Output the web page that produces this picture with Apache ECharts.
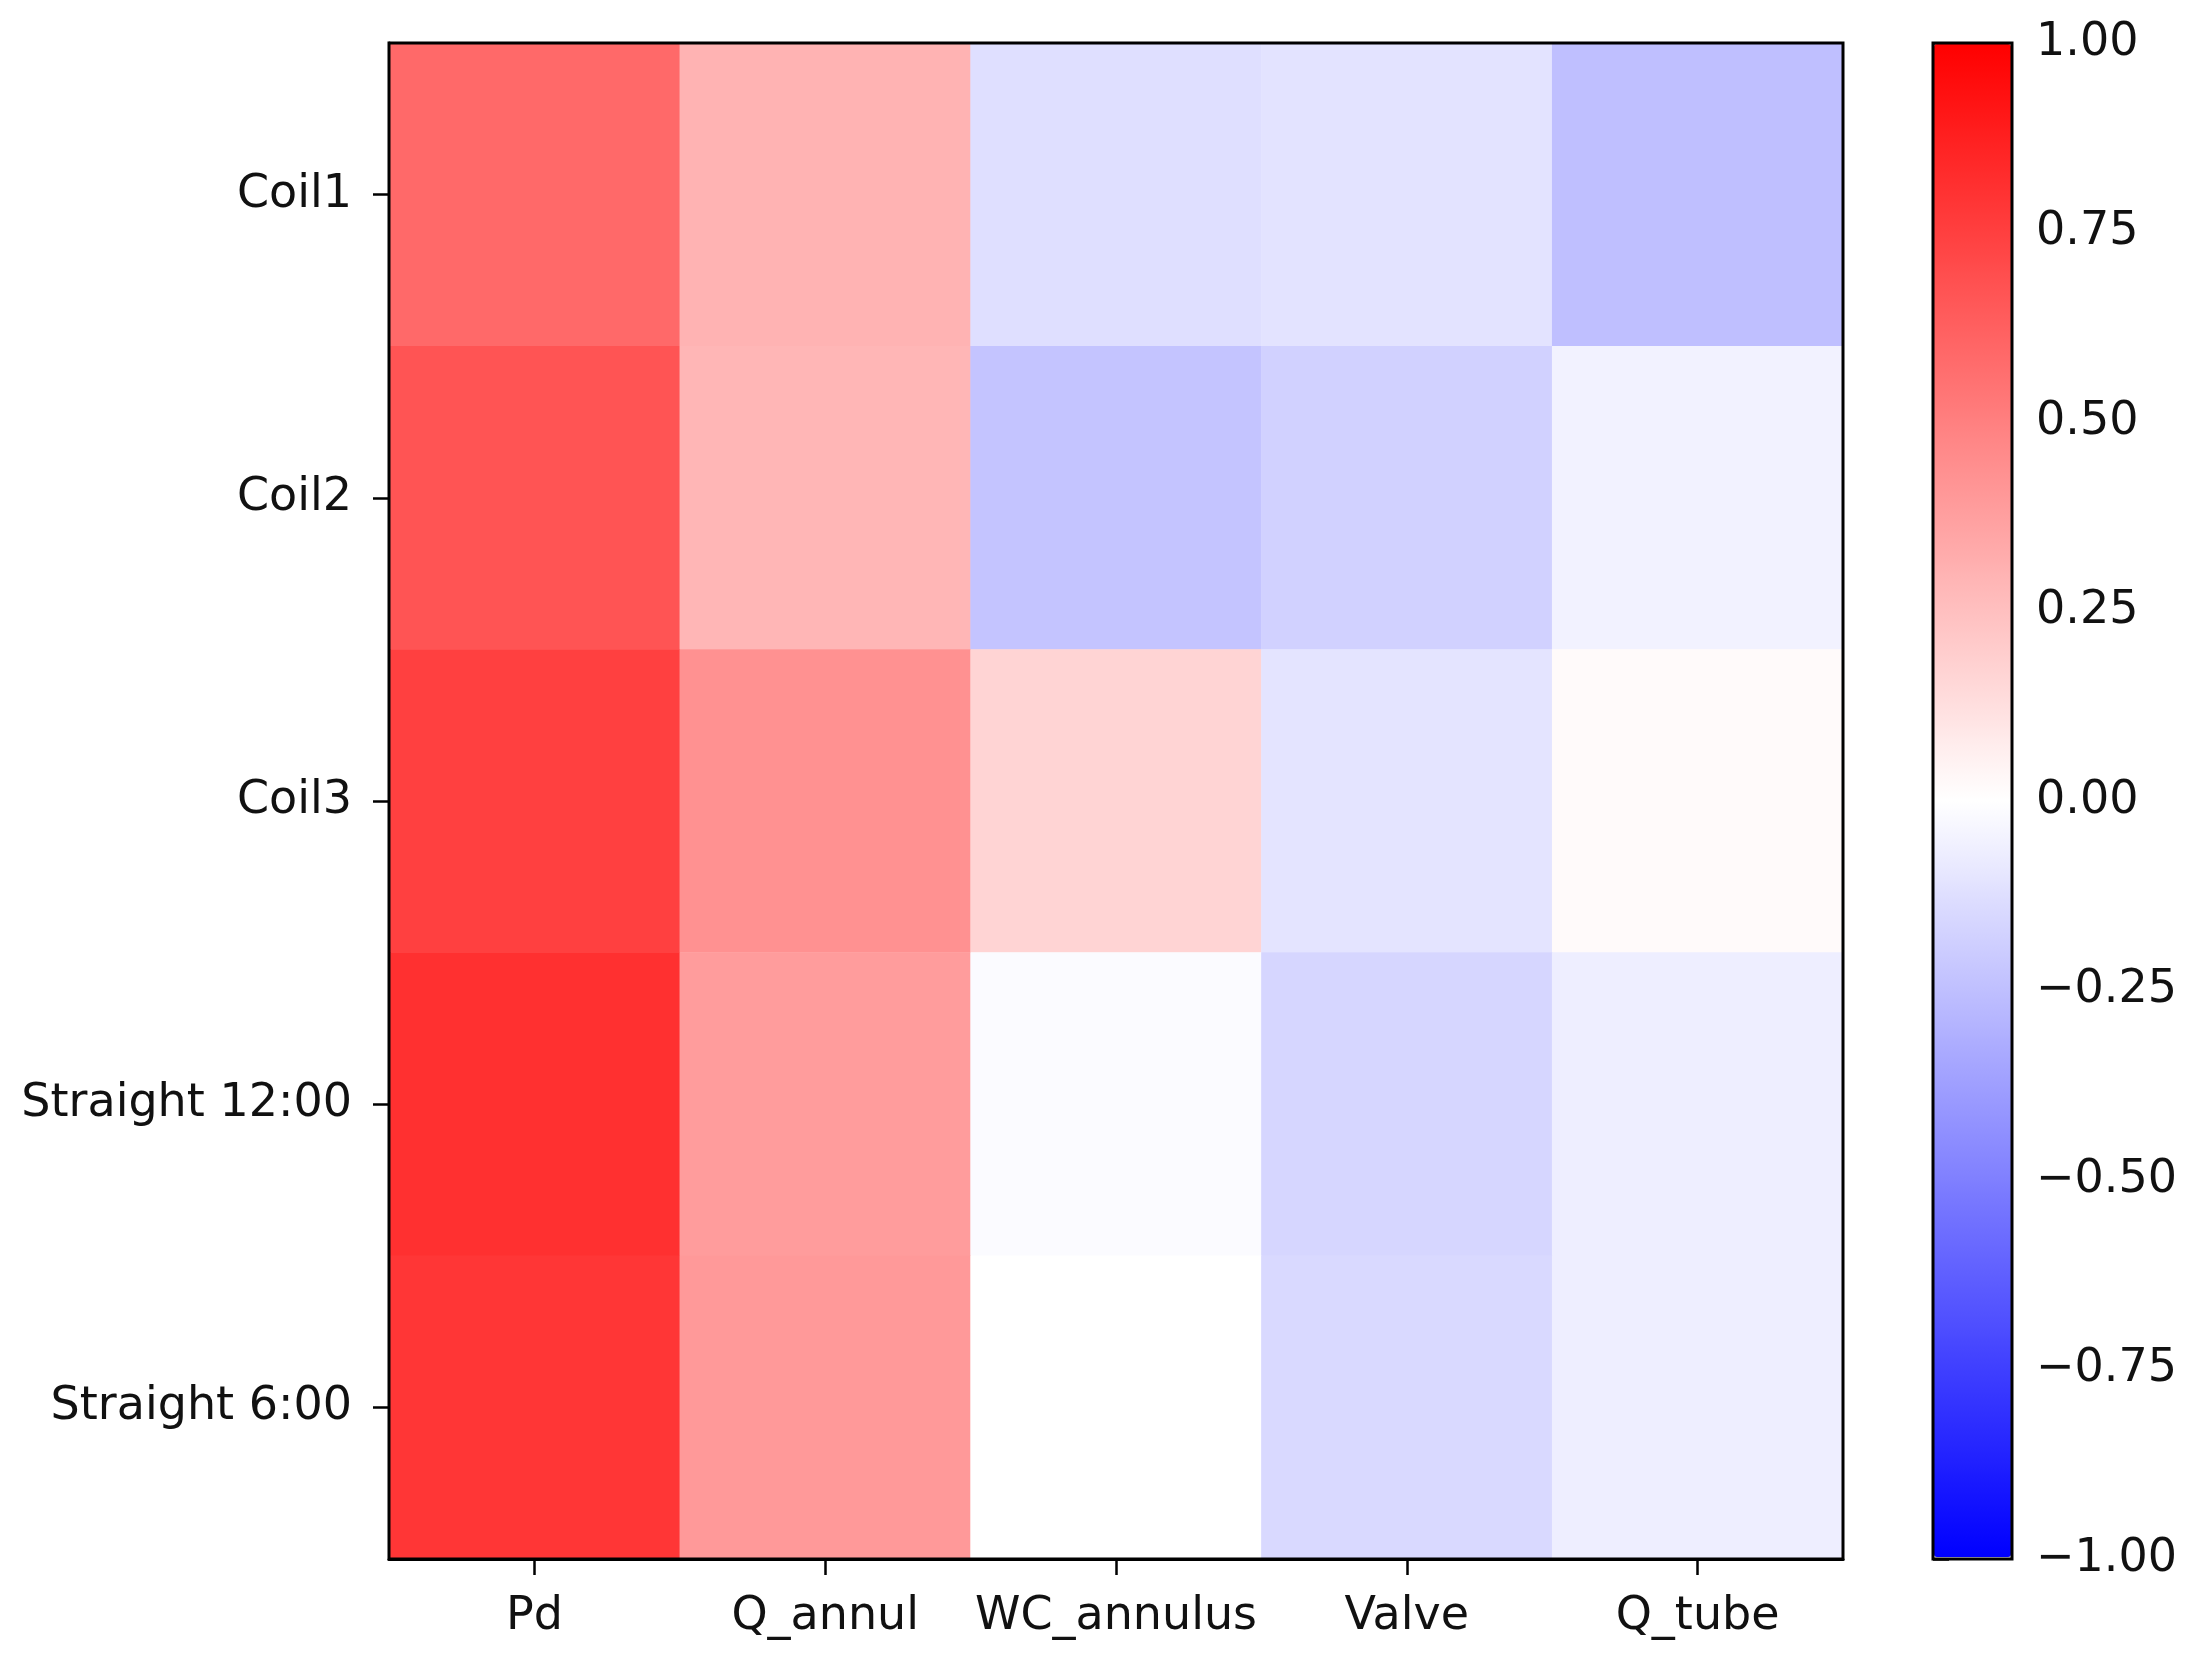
<!DOCTYPE html>
<html>
<head>
<meta charset="UTF-8">
<title>Correlation heatmap</title>
<script src="https://cdn.jsdelivr.net/npm/echarts@6/dist/echarts.min.js"></script>
<style>
  html, body { margin: 0; padding: 0; background: #fff; }
  #chart { width: 2200px; height: 1666px; }
</style>
</head>
<body>
<div id="chart"></div>
<script type="text/javascript">
    // columns and rows of the matrix
    var variables = ['Pd', 'Q_annul', 'WC_annulus', 'Valve', 'Q_tube'];
    var cases = ['Coil1', 'Coil2', 'Coil3', 'Straight 12:00', 'Straight 6:00'];

    // correlation values, one array per row
    var coil1 = [0.59, 0.30, -0.125, -0.11, -0.25];
    var coil2 = [0.67, 0.285, -0.23, -0.18, -0.05];
    var coil3 = [0.75, 0.43, 0.17, -0.105, 0.02];
    var straight12 = [0.81, 0.39, -0.015, -0.16, -0.065];
    var straight6 = [0.79, 0.40, 0.0, -0.15, -0.065];
    var rows = [coil1, coil2, coil3, straight12, straight6];

    // colorbar ticks
    var barTicks = [-1, -0.75, -0.5, -0.25, 0, 0.25, 0.5, 0.75, 1];

    var cells = [];
    for (let r = 0; r < rows.length; r++) {
        for (let c = 0; c < rows[r].length; c++) {
            cells.push([c, r, rows[r][c]]);
        }
    }

    var font = 'DejaVu Sans';
    var ink = '#111111';

    var option = {
        backgroundColor: '#ffffff',
        animation: false,
        grid: [
            {
                left: 389, top: 43, width: 1454, height: 1516,
                show: true, borderColor: '#000', borderWidth: 3,
                backgroundColor: 'transparent', z: 5
            },
            {
                left: 1933, top: 43, width: 79, height: 1516,
                show: true, borderColor: '#000', borderWidth: 3,
                backgroundColor: 'transparent', z: 10
            }
        ],
        xAxis: [
            {
                type: 'category',
                gridIndex: 0,
                data: variables,
                position: 'bottom',
                axisLine: {show: true, lineStyle: {color: '#000', width: 3}},
                axisTick: {show: true, alignWithLabel: true, length: 16, lineStyle: {color: '#000', width: 2.5}},
                axisLabel: {interval: 0, margin: 35, fontSize: 46, fontFamily: font, color: ink},
                splitLine: {show: false}
            },
            {
                type: 'value',
                gridIndex: 1,
                show: false,
                min: 0, max: 1
            }
        ],
        yAxis: [
            {
                type: 'category',
                gridIndex: 0,
                data: cases,
                inverse: true,
                axisLine: {show: true, lineStyle: {color: '#000', width: 3}},
                axisTick: {show: true, alignWithLabel: true, length: 16, lineStyle: {color: '#000', width: 2.5}},
                axisLabel: {interval: 0, margin: 37, fontSize: 46, fontFamily: font, color: ink},
                splitLine: {show: false}
            },
            {
                type: 'value',
                gridIndex: 1,
                position: 'right',
                min: barTicks[0],
                max: barTicks[barTicks.length - 1],
                interval: 0.25,
                axisLine: {show: false},
                axisTick: {show: true, length: 16, lineStyle: {color: '#000', width: 2.5}},
                axisLabel: {
                    margin: 24, fontSize: 46, fontFamily: font, color: ink,
                    formatter: function (v) {
                        var s = Math.abs(v).toFixed(2);
                        return v < 0 ? '\u2212' + s : s;
                    }
                },
                splitLine: {show: false}
            }
        ],
        visualMap: {
            type: 'continuous',
            min: -1,
            max: 1,
            dimension: 2,
            seriesIndex: 0,
            calculable: false,
            hoverLink: false,
            orient: 'vertical',
            left: 1934,
            top: 44,
            padding: 0,
            itemWidth: 77,
            itemHeight: 1513,
            text: null,
            showLabel: false,
            inRange: {color: ['#0000ff', '#ffffff', '#ff0000']}
        },
        series: [
            {
                type: 'heatmap',
                xAxisIndex: 0,
                yAxisIndex: 0,
                data: cells,
                itemStyle: {borderWidth: 0},
                emphasis: {disabled: true}
            }
        ]
    };

    var myChart = echarts.init(document.getElementById('chart'));
    myChart.setOption(option);
</script>
</body>
</html>
